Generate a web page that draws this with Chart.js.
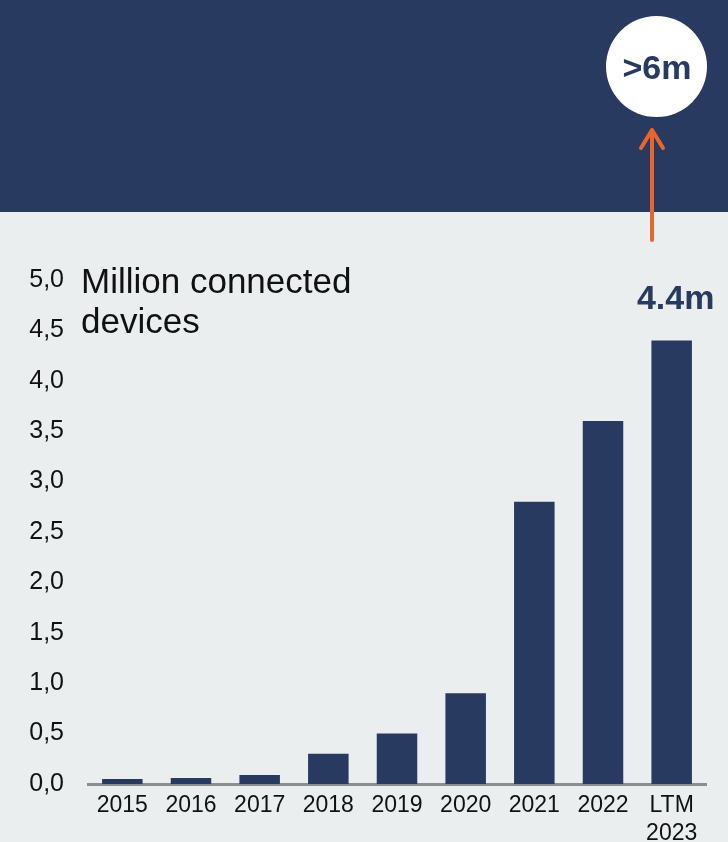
<!DOCTYPE html>
<html>
<head>
<meta charset="utf-8">
<script src="https://cdn.jsdelivr.net/npm/chart.js@4.4.1/dist/chart.umd.min.js"></script>
<style>
  html, body { margin: 0; padding: 0; background: #EAEEEF; }
  #wrap { width: 728px; height: 842px; position: relative; }
</style>
</head>
<body>
<div id="wrap"><canvas id="chart-devices"></canvas></div>
<script>
const years = ['2015', '2016', '2017', '2018', '2019', '2020', '2021', '2022', ['LTM', '2023']];
const devices = [0.05, 0.06, 0.09, 0.3, 0.5, 0.9, 2.8, 3.6, 4.4];
const yTicks = [0, 0.5, 1, 1.5, 2, 2.5, 3, 3.5, 4, 4.5, 5];
const targetLabel = '>6m';

const NAVY = '#283A5F';
const ORANGE = '#E8662E';
const FONT = '"Liberation Sans", Arial, sans-serif';

const fmtComma = (v) => Number(v).toFixed(1).replace('.', ',');

// background + dark header band
const backdrop = {
  id: 'backdrop',
  beforeDraw(chart) {
    const { ctx, width } = chart;
    ctx.save();
    ctx.fillStyle = '#EAEEEF';
    ctx.fillRect(0, 0, width, chart.height);
    ctx.fillStyle = NAVY;
    ctx.fillRect(0, 0, width, 212);
    ctx.restore();
  }
};

// axis title, last-bar label, target bubble and arrow
const extras = {
  id: 'extras',
  afterDraw(chart) {
    const { ctx } = chart;
    const y = chart.scales.y;
    const last = chart.getDatasetMeta(0).data[devices.length - 1];
    ctx.save();

    ctx.fillStyle = '#111';
    ctx.font = `35px ${FONT}`;
    ctx.textAlign = 'left';
    ctx.textBaseline = 'alphabetic';
    ctx.fillText('Million connected', 81, 293);
    ctx.fillText('devices', 81, 333);

    ctx.fillStyle = NAVY;
    ctx.font = `bold 34px ${FONT}`;
    ctx.textAlign = 'center';
    const v = devices[devices.length - 1];
    ctx.fillText(`${v.toFixed(1)}m`, last.x + 4, y.getPixelForValue(v) - 31);

    // target bubble
    ctx.fillStyle = '#fff';
    ctx.beginPath();
    ctx.arc(656.5, 66.5, 50.5, 0, Math.PI * 2);
    ctx.fill();
    ctx.fillStyle = NAVY;
    ctx.font = `bold 34px ${FONT}`;
    ctx.textBaseline = 'middle';
    ctx.fillText(targetLabel, 657, 70);

    // arrow
    ctx.strokeStyle = ORANGE;
    ctx.lineWidth = 4;
    ctx.lineCap = 'round';
    ctx.lineJoin = 'round';
    ctx.beginPath();
    ctx.moveTo(652, 240);
    ctx.lineTo(652, 130);
    ctx.moveTo(641, 148);
    ctx.lineTo(652, 130);
    ctx.lineTo(663, 148);
    ctx.stroke();
    ctx.restore();
  }
};

new Chart(document.getElementById('chart-devices'), {
  type: 'bar',
  data: {
    labels: years,
    datasets: [{
      data: devices,
      backgroundColor: NAVY,
      barPercentage: 1,
      categoryPercentage: 0.59
    }]
  },
  options: {
    responsive: true,
    maintainAspectRatio: false,
    animation: false,
    layout: { padding: { top: 280, right: 22, bottom: 0, left: 0 } },
    plugins: { legend: { display: false }, tooltip: { enabled: false } },
    scales: {
      x: {
        grid: { display: false, drawTicks: false },
        border: { display: true, color: '#8E8E8E', width: 3 },
        ticks: { color: '#111', font: { family: FONT, size: 23 }, padding: 8, maxRotation: 0, autoSkip: false },
        afterFit: (s) => { s.height = 842 - 784; }
      },
      y: {
        min: 0,
        max: 5,
        grid: { display: false, drawTicks: false },
        border: { display: false },
        afterBuildTicks: (s) => { s.ticks = yTicks.map((value) => ({ value })); },
        ticks: { color: '#111', font: { family: FONT, size: 25 }, padding: 24, callback: fmtComma },
        afterFit: (s) => { s.width = 88; }
      }
    }
  },
  plugins: [backdrop, extras]
});
</script>
</body>
</html>
